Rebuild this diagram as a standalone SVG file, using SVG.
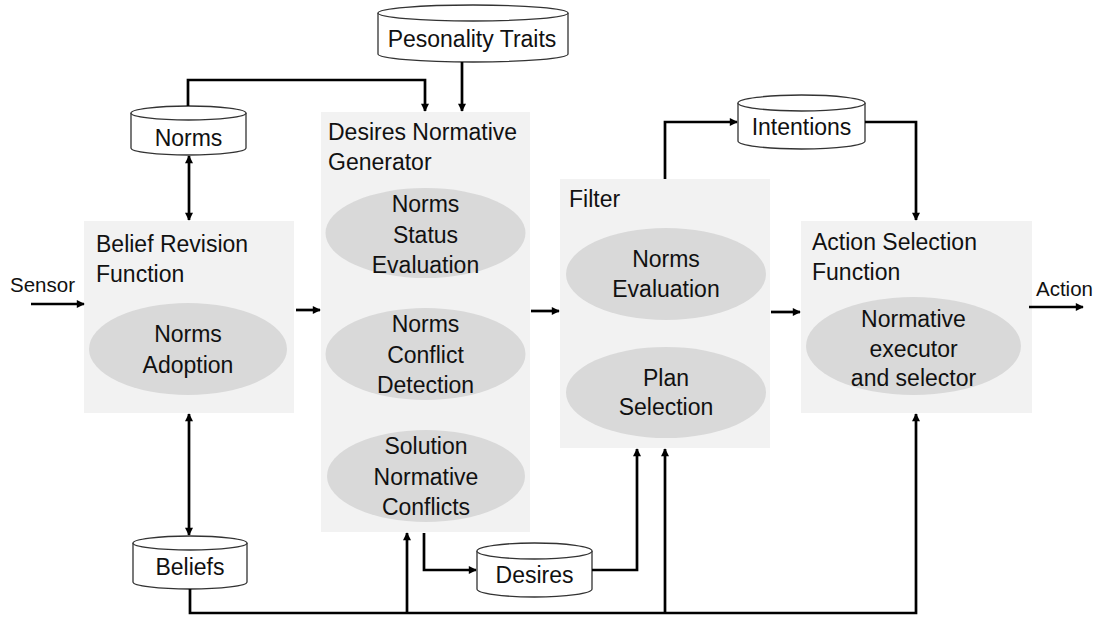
<svg xmlns="http://www.w3.org/2000/svg" width="1101" height="619" viewBox="0 0 1101 619">
<style>
  text { font-family: "Liberation Sans", Arial, sans-serif; font-size: 23px; fill: #111111; }
  .c { text-anchor: middle; }
  .sm { font-size: 20.5px; }
  .box { fill: #f2f2f2; stroke: none; }
  .ell { fill: #d9d9d9; stroke: none; }
  .cyl { fill: #ffffff; stroke: #333333; stroke-width: 1.3; }
  .ln { fill: none; stroke: #000000; stroke-width: 2.7; }
  .ar { marker-end: url(#ah); }
  .dbl { marker-start: url(#ah); marker-end: url(#ah); }
</style>
<defs>
  <marker id="ah" viewBox="0 0 10 10" refX="9" refY="5" markerWidth="9" markerHeight="8" markerUnits="userSpaceOnUse" orient="auto-start-reverse">
    <path d="M0,0 L10,5 L0,10 Z" fill="#000000"/>
  </marker>
</defs>
<rect width="1101" height="619" fill="#ffffff"/>

<g id="belief-revision">
  <rect class="box" x="84" y="221" width="210" height="192"/>
  <text x="96" y="252">Belief Revision</text>
  <text x="96" y="282">Function</text>
  <ellipse class="ell" cx="188" cy="349" rx="99" ry="46"/>
  <text class="c" x="188" y="342">Norms</text>
  <text class="c" x="188" y="373">Adoption</text>
</g>

<g id="desires-generator">
  <rect class="box" x="321" y="112" width="209" height="420"/>
  <text x="328" y="140">Desires Normative</text>
  <text x="328" y="170">Generator</text>
  <ellipse class="ell" cx="425.5" cy="233" rx="100" ry="45"/>
  <text class="c" x="425.5" y="212">Norms</text>
  <text class="c" x="425.5" y="243">Status</text>
  <text class="c" x="425.5" y="273">Evaluation</text>
  <ellipse class="ell" cx="425.5" cy="354" rx="100" ry="46"/>
  <text class="c" x="425.5" y="332">Norms</text>
  <text class="c" x="425.5" y="363">Conflict</text>
  <text class="c" x="425.5" y="393">Detection</text>
  <ellipse class="ell" cx="426" cy="476" rx="99" ry="46"/>
  <text class="c" x="426" y="454">Solution</text>
  <text class="c" x="426" y="485">Normative</text>
  <text class="c" x="426" y="515">Conflicts</text>
</g>

<g id="filter">
  <rect class="box" x="560" y="179" width="210" height="269"/>
  <text x="569" y="207">Filter</text>
  <ellipse class="ell" cx="666" cy="274" rx="100" ry="46"/>
  <text class="c" x="666" y="267">Norms</text>
  <text class="c" x="666" y="297">Evaluation</text>
  <ellipse class="ell" cx="666" cy="392.5" rx="100" ry="45.5"/>
  <text class="c" x="666" y="386">Plan</text>
  <text class="c" x="666" y="415">Selection</text>
</g>

<g id="action-selection">
  <rect class="box" x="801" y="221" width="231" height="192"/>
  <text x="812" y="250">Action Selection</text>
  <text x="812" y="280">Function</text>
  <ellipse class="ell" cx="913.5" cy="346" rx="107.5" ry="49"/>
  <text class="c" x="913.5" y="327">Normative</text>
  <text class="c" x="913.5" y="357">executor</text>
  <text class="c" x="913.5" y="386">and selector</text>
</g>

<g id="personality-traits">
  <path class="cyl" d="M378,13 V54 A95,8 0 0 0 568,54 V13"/>
  <ellipse class="cyl" cx="473" cy="13" rx="95" ry="8"/>
  <text class="c" x="472" y="47">Pesonality Traits</text>
</g>

<g id="norms">
  <path class="cyl" d="M131,113 V148 A57.5,7 0 0 0 246,148 V113"/>
  <ellipse class="cyl" cx="188.5" cy="113" rx="57.5" ry="7"/>
  <text class="c" x="188.5" y="146">Norms</text>
</g>

<g id="intentions">
  <path class="cyl" d="M738,103 V141 A63.5,8 0 0 0 865,141 V103"/>
  <ellipse class="cyl" cx="801.5" cy="103" rx="63.5" ry="8"/>
  <text class="c" x="801.5" y="135">Intentions</text>
</g>

<g id="beliefs">
  <path class="cyl" d="M133,543 V582 A57,7 0 0 0 247,582 V543"/>
  <ellipse class="cyl" cx="190" cy="543" rx="57" ry="7"/>
  <text class="c" x="190" y="575">Beliefs</text>
</g>

<g id="desires">
  <path class="cyl" d="M477,551 V589 A57.5,8 0 0 0 592,589 V551"/>
  <ellipse class="cyl" cx="534.5" cy="551" rx="57.5" ry="8"/>
  <text class="c" x="534.5" y="583">Desires</text>
</g>

<g id="sensor-label"><text class="sm" x="10" y="292">Sensor</text></g>
<g id="action-label"><text class="sm" x="1036" y="296">Action</text></g>

<g id="connectors">
  <path class="ln ar" d="M31,304 H84"/>
  <path class="ln ar" d="M296,310 H320"/>
  <path class="ln ar" d="M531,311 H559"/>
  <path class="ln ar" d="M771,312 H800"/>
  <path class="ln ar" d="M1029,307 H1083"/>
  <path class="ln dbl" d="M189,156 V220"/>
  <path class="ln dbl" d="M189,414 V535"/>
  <path class="ln ar" d="M188,106 V80 H425 V111"/>
  <path class="ln ar" d="M462,62 V111"/>
  <path class="ln ar" d="M665,179 V122 H737"/>
  <path class="ln ar" d="M865,122 H916 V220"/>
  <path class="ln ar" d="M424,533 V570 H476"/>
  <path class="ln ar" d="M592,570 H637 V449"/>
  <path class="ln ar" d="M190,589 V613 H916 V414"/>
  <path class="ln ar" d="M407,613 V533"/>
  <path class="ln ar" d="M665,613 V449"/>
</g>
</svg>
